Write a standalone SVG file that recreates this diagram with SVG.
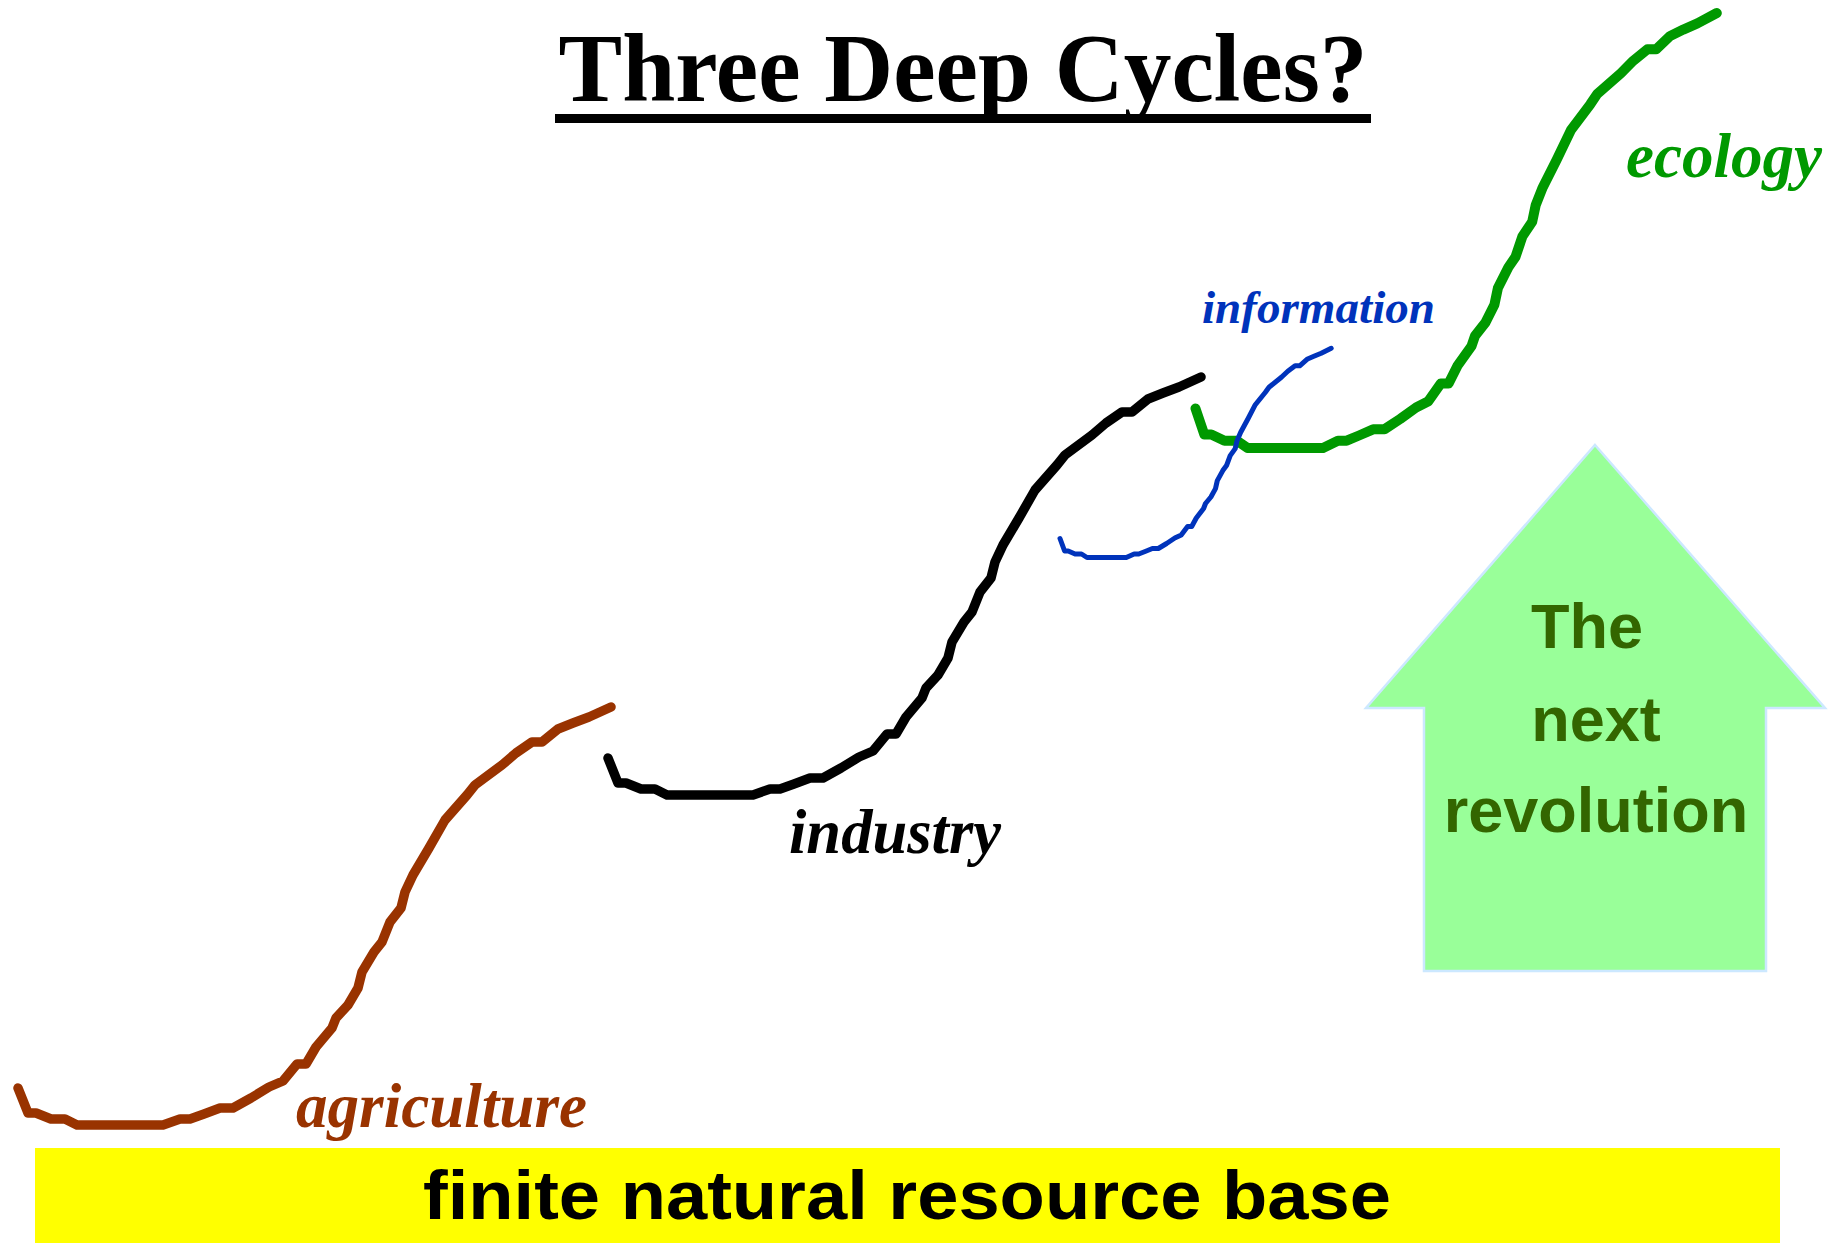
<svg xmlns="http://www.w3.org/2000/svg" width="1838" height="1243" viewBox="0 0 1838 1243">
<style>
.curve{fill:none;stroke-linecap:round;stroke-linejoin:round}
.lbl{font-family:"Liberation Serif","Times New Roman",serif;font-weight:bold;font-style:italic}
.sans{font-family:"Liberation Sans",Arial,sans-serif;font-weight:bold}
</style>
<rect x="0" y="0" width="1838" height="1243" fill="#ffffff"/>
<g id="title">
<text x="963" y="101" text-anchor="middle" font-family="'Liberation Serif','Times New Roman',serif" font-weight="bold" font-size="97" textLength="809" lengthAdjust="spacingAndGlyphs" fill="#000">Three Deep Cycles?</text>
<rect x="555" y="114" width="816" height="9" fill="#000"/>
</g>
<g id="resource-base">
<rect x="35" y="1148" width="1745" height="95" fill="#ffff00"/>
<text x="907" y="1219" text-anchor="middle" class="sans" font-size="68" textLength="968" lengthAdjust="spacingAndGlyphs" fill="#000">finite natural resource base</text>
</g>
<g id="next-revolution">
<polygon points="1595,445 1825,708 1766,708 1766,971 1424,971 1424,708 1366,708" fill="#99ff99" stroke="#cce8ff" stroke-width="2.5" stroke-linejoin="miter"/>
<text class="sans" font-size="63" fill="#336600" text-anchor="middle"><tspan x="1587" y="648">The</tspan><tspan x="1596" y="741">next</tspan><tspan x="1596" y="832">revolution</tspan></text>
</g>
<g id="curves">
<path id="agriculture-curve" class="curve" stroke="#993300" stroke-width="9.5" d="M18,1088 L28,1113 L36,1113 L51,1119 L65,1119 L77,1125 L163,1125 L180,1119 L190,1119 L204,1114 L220,1108 L233,1108 L251,1098 L269,1087 L283,1081 L297,1064 L306,1064 L316,1047 L332,1028 L336,1018 L348,1005 L358,988 L362,972 L374,952 L382,942 L390,922 L401,908 L405,892 L413,875 L429,848 L445,820 L467,795 L475,785 L502,765 L516,753 L532,742 L542,742 L558,729 L573,723 L589,717 L611,707"/>
<path id="industry-curve" class="curve" stroke="#000000" stroke-width="9.5" transform="translate(590,-330)" d="M18,1088 L28,1113 L36,1113 L51,1119 L65,1119 L77,1125 L163,1125 L180,1119 L190,1119 L204,1114 L220,1108 L233,1108 L251,1098 L269,1087 L283,1081 L297,1064 L306,1064 L316,1047 L332,1028 L336,1018 L348,1005 L358,988 L362,972 L374,952 L382,942 L390,922 L401,908 L405,892 L413,875 L429,848 L445,820 L467,795 L475,785 L502,765 L516,753 L532,742 L542,742 L558,729 L573,723 L589,717 L611,707"/>
<path id="ecology-curve" class="curve" stroke="#009900" stroke-width="10" d="M1195.5,408.5 L1204.3,434.5 L1211.3,434.5 L1224.5,440.7 L1236.8,440.7 L1247.4,447.9 L1323,447.9 L1337.9,440.7 L1346.7,440.7 L1359,435.5 L1373.1,429.3 L1384.5,429.3 L1400.3,418.9 L1416.1,407.5 L1428.4,401.2 L1440.7,383.6 L1448.6,383.6 L1457.4,365.9 L1471.5,346.2 L1475,335.8 L1485.6,322.3 L1494.4,304.7 L1497.9,288.1 L1508.4,267.3 L1515.5,256.9 L1522.5,236.2 L1532.2,221.7 L1535.7,205.1 L1542.7,187.4 L1556.8,159.4 L1570.8,130.3 L1590.2,104.4 L1597.2,94 L1620.9,73.2 L1633.2,60.8 L1647.3,49.3 L1656.1,49.3 L1670.2,35.9 L1683.3,29.6 L1697.4,23.4 L1716.8,13"/>
<path id="information-curve" class="curve" stroke="#0033bb" stroke-width="5" d="M1060,538.5 L1064.6,551 L1068.2,551 L1075.1,554 L1081.5,554 L1087,557.5 L1126.3,557.5 L1134.1,554 L1138.7,554 L1145.1,551.5 L1152.4,548.5 L1158.3,548.5 L1166.6,543.5 L1174.8,538 L1181.2,535 L1187.6,526.5 L1191.7,526.5 L1196.3,518 L1203.6,508.5 L1205.5,503.5 L1210.9,497 L1215.5,488.6 L1217.3,480.6 L1222.8,470.6 L1226.5,465.6 L1230.2,455.6 L1235.2,448.6 L1237,440.7 L1240.7,432.2 L1248,418.7 L1255.3,404.7 L1265.4,392.2 L1269,387.2 L1281.4,377.3 L1287.8,371.3 L1295.1,365.8 L1299.7,365.8 L1307,359.3 L1313.9,356.3 L1321.2,353.3 L1331.2,348.3"/>
</g>
<g id="labels">
<text id="agriculture" class="lbl" x="296" y="1127" font-size="64" textLength="291" lengthAdjust="spacingAndGlyphs" fill="#993300">agriculture</text>
<text id="industry" class="lbl" x="789" y="853" font-size="64" textLength="212" lengthAdjust="spacingAndGlyphs" fill="#000000">industry</text>
<text id="information" class="lbl" x="1202" y="323" font-size="47" textLength="233" lengthAdjust="spacingAndGlyphs" fill="#0033bb">information</text>
<text id="ecology" class="lbl" x="1626" y="177" font-size="64" textLength="196" lengthAdjust="spacingAndGlyphs" fill="#009900">ecology</text>
</g>
</svg>
